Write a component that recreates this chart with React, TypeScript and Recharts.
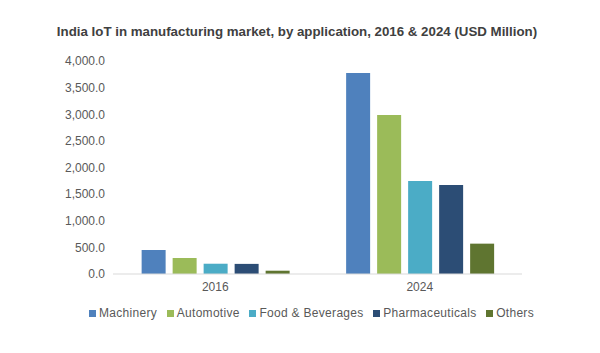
import React from "react";
import { BarChart, Bar, XAxis, YAxis } from "recharts";

const years = ["2016", "2024"];
const machinery = [451, 3775];
const automotive = [300, 2986];
const foodBeverages = [193, 1746];
const pharmaceuticals = [190, 1671];
const others = [62, 570];
const yTicks = [0, 500, 1000, 1500, 2000, 2500, 3000, 3500, 4000];

const data = years.map((y, i) => ({
  year: y,
  Machinery: machinery[i],
  Automotive: automotive[i],
  "Food & Beverages": foodBeverages[i],
  Pharmaceuticals: pharmaceuticals[i],
  Others: others[i],
}));

const series = [
  { key: "Machinery", color: "#4f81bd" },
  { key: "Automotive", color: "#9bbb59" },
  { key: "Food & Beverages", color: "#4bacc6" },
  { key: "Pharmaceuticals", color: "#2c4d75" },
  { key: "Others", color: "#5f7530" },
];

const fmt = (v: number) =>
  v.toLocaleString("en-US", { minimumFractionDigits: 1, maximumFractionDigits: 1 });

export default function App() {
  return (
    <div
      style={{
        position: "absolute",
        left: 0,
        top: 0,
        width: 600,
        height: 353,
        background: "#fff",
        fontFamily: "'Liberation Sans', Arial, sans-serif",
      }}
    >
      <div
        style={{
          position: "absolute",
          top: 24,
          left: 0,
          width: 594,
          textAlign: "center",
          fontSize: 13.3,
          fontWeight: "bold",
          color: "#404040",
        }}
      >
        India IoT in manufacturing market, by application, 2016 &amp; 2024 (USD Million)
      </div>
      <BarChart
        width={600}
        height={353}
        data={data}
        margin={{ top: 61, right: 78, left: 0, bottom: 49 }}
        barGap={7}
        barCategoryGap="14%"
      >
        <XAxis
          dataKey="year"
          height={30}
          tickLine={false}
          axisLine={{ stroke: "#d9d9d9" }}
          tick={{ fill: "#595959", fontSize: 12 }}
        />
        <YAxis
          width={113}
          domain={[0, 4000]}
          ticks={yTicks}
          tickFormatter={fmt}
          tickLine={false}
          axisLine={false}
          tick={{ fill: "#595959", fontSize: 12 }}
        />
        {series.map((s) => (
          <Bar key={s.key} dataKey={s.key} fill={s.color} isAnimationActive={false} />
        ))}
      </BarChart>
      <div
        style={{
          position: "absolute",
          top: 306,
          left: 89,
          width: 445,
          display: "flex",
          justifyContent: "space-between",
          fontSize: 12,
          color: "#595959",
          lineHeight: "14px",
          letterSpacing: 0.3,
        }}
      >
        {series.map((s) => (
          <div key={s.key} style={{ display: "flex", alignItems: "center" }}>
            <span
              style={{
                display: "inline-block",
                width: 7,
                height: 7,
                background: s.color,
                marginRight: 3,
              }}
            />
            <span>{s.key}</span>
          </div>
        ))}
      </div>
    </div>
  );
}
